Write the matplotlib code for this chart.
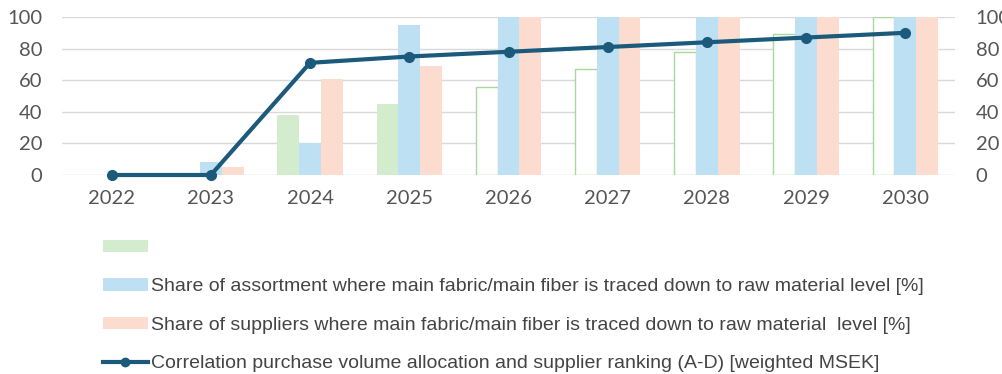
import numpy as np
import matplotlib.pyplot as plt
from matplotlib.patches import Patch
from matplotlib.lines import Line2D

years = ["2022", "2023", "2024", "2025", "2026", "2027", "2028", "2029", "2030"]
green_share = [0, 0, 38, 45, 56, 67, 78, 89, 100]
assortment_traced = [0, 8, 20, 95, 100, 100, 100, 100, 100]
suppliers_traced = [0, 5, 61, 69, 100, 100, 100, 100, 100]
correlation = [0, 0, 71, 75, 78, 81, 84, 87, 90]
first_target_year = 2026

labels = [
    "",
    "Share of assortment where main fabric/main fiber is traced down to raw material level [%]",
    "Share of suppliers where main fabric/main fiber is traced down to raw material  level [%]",
    "Correlation purchase volume allocation and supplier ranking (A-D) [weighted MSEK]",
]

GREEN = "#d3ecce"
GREEN_EDGE = "#a9d89c"
BLUE = "#bde0f3"
PEACH = "#fbdccf"
LINE = "#1b5a7b"
TEXT = "#555555"

fig = plt.figure(figsize=(10.02, 3.74), dpi=100)
ax = fig.add_axes([62 / 1002, 1 - 175 / 374, 893 / 1002, 158 / 374])

x = np.arange(len(years))
w = 0.22
target = np.array([int(y) >= first_target_year for y in years])
g = np.array(green_share)

# achieved years filled, target years as outlined bars
ax.bar(x[~target] - w, g[~target], w, color=GREEN, zorder=2)
ax.bar(x[target] - w, g[target], w, facecolor="white", edgecolor=GREEN_EDGE,
       linewidth=1, zorder=2)
ax.bar(x, assortment_traced, w, color=BLUE, zorder=2)
ax.bar(x + w, suppliers_traced, w, color=PEACH, zorder=2)
ax.plot(x, correlation, color=LINE, lw=3, marker="o", ms=7, zorder=4,
        clip_on=False)

ax.set_xlim(-0.5, len(years) - 0.5)
ax.set_ylim(0, 100)
ax.set_yticks(range(0, 101, 20))
ax.set_xticks(x)
ax.set_xticklabels(years)
ax.yaxis.grid(True, color="#d9d9d9", lw=1, zorder=0)
ax.set_axisbelow(True)
for s in ax.spines.values():
    s.set_visible(False)
ax.tick_params(axis="both", length=0, labelsize=14.5, colors=TEXT)
ax.tick_params(axis="y", pad=14)
ax.tick_params(axis="x", pad=11)

ax2 = ax.twinx()
ax2.set_ylim(0, 100)
ax2.set_yticks(range(0, 101, 20))
for s in ax2.spines.values():
    s.set_visible(False)
ax2.tick_params(axis="y", length=0, labelsize=14.5, colors=TEXT, pad=15)

for t in ax.get_xticklabels() + ax.get_yticklabels() + ax2.get_yticklabels():
    t.set_family("Lato")

handles = [
    Patch(facecolor=GREEN),
    Patch(facecolor=BLUE),
    Patch(facecolor=PEACH),
    Line2D([0], [0], color=LINE, lw=3, marker="o", ms=6),
]
fig.legend(handles, labels, loc="upper left",
           bbox_to_anchor=(103 / 1002, 1 - 240 / 374), frameon=False,
           borderpad=0, borderaxespad=0,
           handlelength=2.3, handleheight=0.6, handletextpad=0.15,
           labelspacing=1.1, labelcolor="#444444",
           prop={"family": ["Liberation Sans", "DejaVu Sans"], "size": 14})

fig.savefig("out.png", dpi=100)
